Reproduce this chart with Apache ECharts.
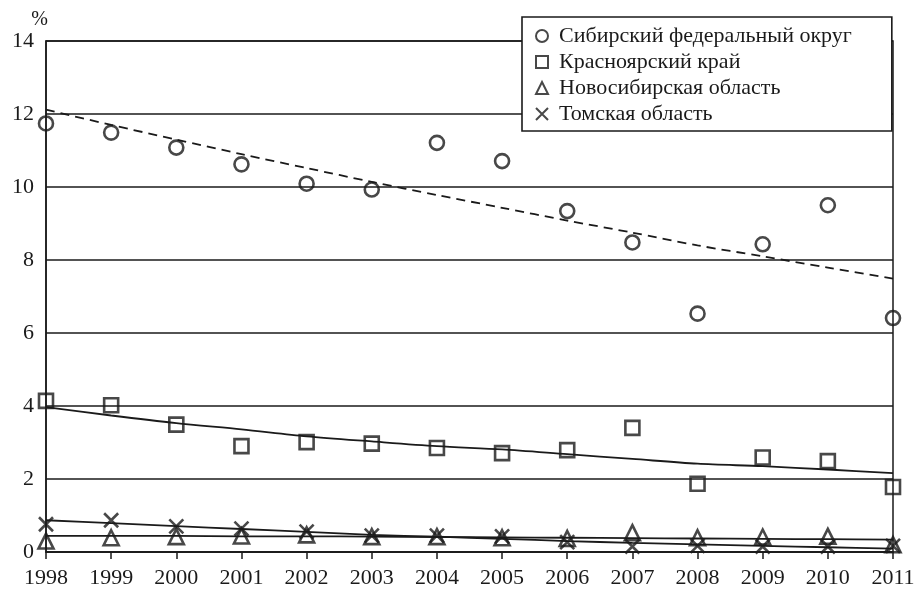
<!DOCTYPE html>
<html>
<head>
<meta charset="utf-8">
<script src="https://cdn.jsdelivr.net/npm/echarts@6/dist/echarts.min.js"></script>
<style>
html,body{margin:0;padding:0;background:#fff;}
#chart{width:921px;height:590px;}
</style>
</head>
<body>
<div id="chart"></div>
<script>
var years = ['1998','1999','2000','2001','2002','2003','2004','2005','2006','2007','2008','2009','2010','2011'];

var seriesNames = ['Сибирский федеральный округ','Красноярский край','Новосибирская область','Томская область'];

var sfo      = [11.74,11.49,11.08,10.62,10.09,9.93,11.21,10.71,9.34,8.48,6.53,8.43,9.50,6.41];
var sfoTrend = [12.12,11.70,11.30,10.90,10.52,10.14,9.78,9.43,9.08,8.75,8.40,8.10,7.79,7.49];

var kras      = [4.14,4.02,3.49,2.90,3.01,2.97,2.85,2.71,2.79,3.40,1.87,2.59,2.49,1.78];
var krasTrend = [3.97,3.74,3.53,3.36,3.17,3.03,2.90,2.81,2.68,2.55,2.42,2.35,2.26,2.16];

var nsk      = [0.30,0.39,0.42,0.44,0.47,0.42,0.42,0.39,0.37,0.53,0.39,0.41,0.43,0.20];
var nskTrend = [0.44,0.44,0.44,0.43,0.43,0.42,0.41,0.40,0.39,0.38,0.37,0.36,0.35,0.34];

var tomsk      = [0.76,0.87,0.70,0.64,0.56,0.45,0.45,0.43,0.27,0.15,0.17,0.15,0.15,0.17];
var tomskTrend = [0.87,0.79,0.71,0.63,0.55,0.47,0.42,0.36,0.30,0.25,0.21,0.17,0.13,0.09];

var yTicks = {min: 0, max: 14, step: 2};

var FONT = '"Liberation Serif", "DejaVu Serif", serif';
var INK = '#1a1a1a';
var chart = echarts.init(document.getElementById('chart'), null, {renderer: 'canvas'});

var hollow = {color: 'rgba(0,0,0,0)', borderColor: INK, borderWidth: 2.6};
var crossPath = 'path://M0,0L10,10M10,0L0,10';

function scatter(name, data, symbol, size) {
  return {
    name: name, type: 'scatter', data: data, symbol: symbol, symbolSize: size,
    itemStyle: hollow, z: 5, silent: true
  };
}
function trend(data, dashed) {
  return {
    name: 'trend', type: 'line', data: data, showSymbol: false, symbol: 'none',
    smooth: 0.3, silent: true, z: 3,
    lineStyle: {color: INK, width: 1.8, type: dashed ? [9, 6] : 'solid'}
  };
}

chart.setOption({
  animation: false,
  backgroundColor: '#fff',
  grid: {left: 46, right: 28, top: 41, bottom: 38, show: true, borderColor: INK, borderWidth: 1.5, backgroundColor: 'transparent'},
  legend: {
    data: seriesNames,
    orient: 'vertical',
    left: 522, top: 17,
    padding: [8, 40, 6, 13],
    itemGap: 4,
    itemWidth: 12, itemHeight: 12,
    backgroundColor: '#fff',
    borderColor: INK, borderWidth: 1.6,
    textStyle: {fontFamily: FONT, fontSize: 22, color: INK, padding: [0, 0, 0, 6], lineHeight: 22},
    selectedMode: false
  },
  xAxis: {
    type: 'category', data: years, boundaryGap: false,
    axisLine: {lineStyle: {color: INK, width: 1.5}},
    axisTick: {show: true, inside: false, length: 7, lineStyle: {color: INK, width: 1.5}},
    axisLabel: {fontFamily: FONT, fontSize: 22, color: INK, margin: 15},
    splitLine: {show: false}
  },
  yAxis: {
    type: 'value', min: yTicks.min, max: yTicks.max, interval: yTicks.step,
    name: '%', nameLocation: 'end', nameGap: 8,
    nameTextStyle: {fontFamily: FONT, fontSize: 20, color: INK, align: 'right', padding: [0, -2, 0, 0]},
    axisLine: {show: true, lineStyle: {color: INK, width: 1.5}},
    axisTick: {show: false},
    axisLabel: {fontFamily: FONT, fontSize: 22, color: INK, margin: 12},
    splitLine: {show: true, lineStyle: {color: INK, width: 1.5}}
  },
  series: [
    trend(sfoTrend, true),
    trend(krasTrend, false),
    trend(nskTrend, false),
    trend(tomskTrend, false),
    scatter(seriesNames[0], sfo, 'circle', 14),
    scatter(seriesNames[1], kras, 'rect', 14),
    scatter(seriesNames[2], nsk, 'triangle', 15),
    scatter(seriesNames[3], tomsk, crossPath, 14)
  ]
});
</script>
</body>
</html>
